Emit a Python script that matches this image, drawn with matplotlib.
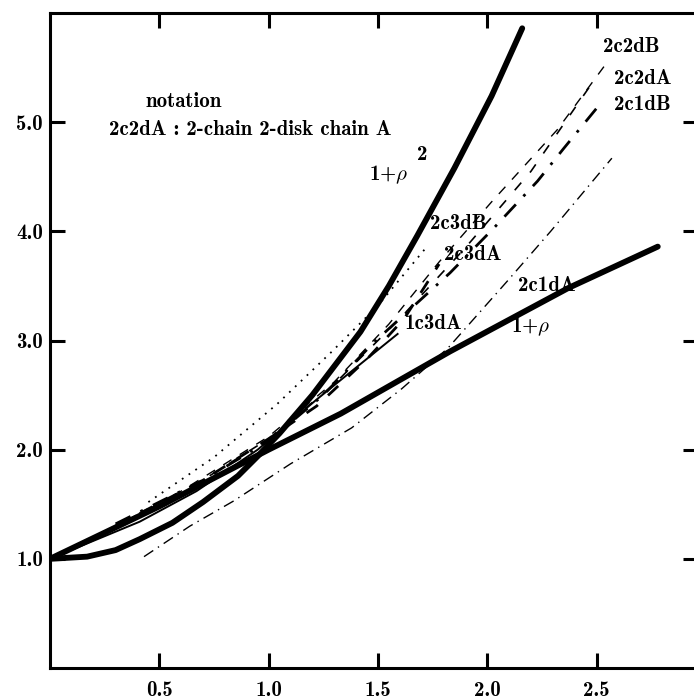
import matplotlib
matplotlib.use("Agg")
import matplotlib.pyplot as plt

plt.rcParams['font.family'] = ['cmb10', 'DejaVu Serif']
plt.rcParams['mathtext.fontset'] = 'cm'
plt.rcParams['axes.unicode_minus'] = False

# reference curves
rho1_x = [0.0, 0.5, 1.0, 1.33, 1.83, 2.37, 2.78]
rho1_y = [1.0, 1.48, 2.0, 2.33, 2.90, 3.48, 3.86]

rho2_x = [0.0, 0.17, 0.30, 0.41, 0.56, 0.70, 0.86, 0.95, 1.05, 1.20,
          1.42, 1.55, 1.68, 1.85, 2.02, 2.16]
rho2_y = [1.0, 1.02, 1.08, 1.18, 1.33, 1.52, 1.76, 1.94, 2.15, 2.50,
          3.08, 3.50, 3.96, 4.58, 5.24, 5.86]

# chain configurations
c2c2dB_x = [0.25, 0.6, 1.0, 1.3, 1.55, 1.78, 2.02, 2.32, 2.56]
c2c2dB_y = [1.25, 1.62, 2.12, 2.62, 3.15, 3.72, 4.27, 4.93, 5.58]

c2c2dA_x = [0.28, 0.65, 1.0, 1.3, 1.6, 1.9, 2.2, 2.47]
c2c2dA_y = [1.28, 1.66, 2.1, 2.6, 3.2, 3.85, 4.55, 5.33]

c2c1dB_x = [0.3, 0.7, 1.0, 1.25, 1.48, 1.83, 2.03, 2.23, 2.35, 2.53]
c2c1dB_y = [1.32, 1.72, 2.08, 2.5, 2.98, 3.62, 4.03, 4.46, 4.76, 5.2]

c2c1dA_x = [0.43, 0.64, 0.84, 1.10, 1.38, 1.61, 1.82, 2.09, 2.29, 2.57]
c2c1dA_y = [1.02, 1.30, 1.53, 1.87, 2.2, 2.56, 2.93, 3.54, 4.0, 4.67]

c2c3dB_x = [0.45, 0.75, 1.04, 1.29, 1.5, 1.72]
c2c3dB_y = [1.52, 1.93, 2.42, 2.9, 3.32, 3.85]

c2c3dA_x = [0.3, 0.7, 1.0, 1.22, 1.45, 1.62, 1.78]
c2c3dA_y = [1.3, 1.72, 2.1, 2.4, 2.83, 3.2, 3.7]

c1c3dA_x = [0.0, 0.41, 0.67, 0.95, 1.22, 1.59]
c1c3dA_y = [1.0, 1.34, 1.62, 2.0, 2.46, 3.06]

x_ticks = [0.5, 1.0, 1.5, 2.0, 2.5]
x_ticklabels = ["0.5", "1.0", "1.5", "2.0", "2.5"]
y_ticks = [1.0, 2.0, 3.0, 4.0, 5.0]
y_ticklabels = ["1.0", "2.0", "3.0", "4.0", "5.0"]

W, H = 694, 699
fig = plt.figure(figsize=(W / 100, H / 100), dpi=100)
ax = fig.add_axes([50 / W, 31 / H, 648 / W, 655 / H])
ax.set_xlim(0, 2.964)
ax.set_ylim(0, 6.0)

k = 'black'
ax.plot(rho1_x, rho1_y, color=k, lw=4.2, solid_capstyle='round')
ax.plot(rho2_x, rho2_y, color=k, lw=4.2, solid_capstyle='round')
ax.plot(c2c2dB_x, c2c2dB_y, color=k, lw=1.0, linestyle=(0, (7, 7)))
ax.plot(c2c2dA_x, c2c2dA_y, color=k, lw=1.2, linestyle=(3, (6, 8)))
ax.plot(c2c1dB_x, c2c1dB_y, color=k, lw=2.0, linestyle=(0, (6, 4, 1, 4)))
ax.plot(c2c1dA_x, c2c1dA_y, color=k, lw=1.0, linestyle=(0, (8, 4, 1, 4)))
ax.plot(c2c3dB_x, c2c3dB_y, color=k, lw=1.3, linestyle=(0, (1, 3.5)))
ax.plot(c2c3dA_x, c2c3dA_y, color=k, lw=2.0, linestyle=(0, (5, 5)))
ax.plot(c1c3dA_x, c1c3dA_y, color=k, lw=1.4)

for s in ax.spines.values():
    s.set_linewidth(2.2)

ax.set_xticks(x_ticks)
ax.set_xticklabels(x_ticklabels)
ax.set_yticks(y_ticks)
ax.set_yticklabels(y_ticklabels)
ax.tick_params(direction='in', length=11, width=2.2, labelsize=15,
               top=True, right=True, pad=5)
ax.tick_params(axis='x', pad=9)

fs = 15
ax.text(0.435, 5.19, "notation", fontsize=fs, va='center', ha='left')
ax.text(0.27, 4.93, "2c2dA : 2-chain 2-disk chain A", fontsize=fs,
        va='center', ha='left')
ax.text(1.46, 4.52, r"1+$\rho$", fontsize=fs, va='center', ha='left')
ax.text(1.68, 4.70, "2", fontsize=fs, va='center', ha='left')
ax.text(2.53, 5.69, "2c2dB", fontsize=fs, va='center', ha='left')
ax.text(2.58, 5.40, "2c2dA", fontsize=fs, va='center', ha='left')
ax.text(2.58, 5.16, "2c1dB", fontsize=fs, va='center', ha='left')
ax.text(1.74, 4.07, "2c3dB", fontsize=fs, va='center', ha='left')
ax.text(1.80, 3.79, "2c3dA", fontsize=fs, va='center', ha='left')
ax.text(2.14, 3.50, "2c1dA", fontsize=fs, va='center', ha='left')
ax.text(1.62, 3.16, "1c3dA", fontsize=fs, va='center', ha='left')
ax.text(2.11, 3.13, r"1+$\rho$", fontsize=fs, va='center', ha='left')

fig.savefig("out.png", dpi=100)
